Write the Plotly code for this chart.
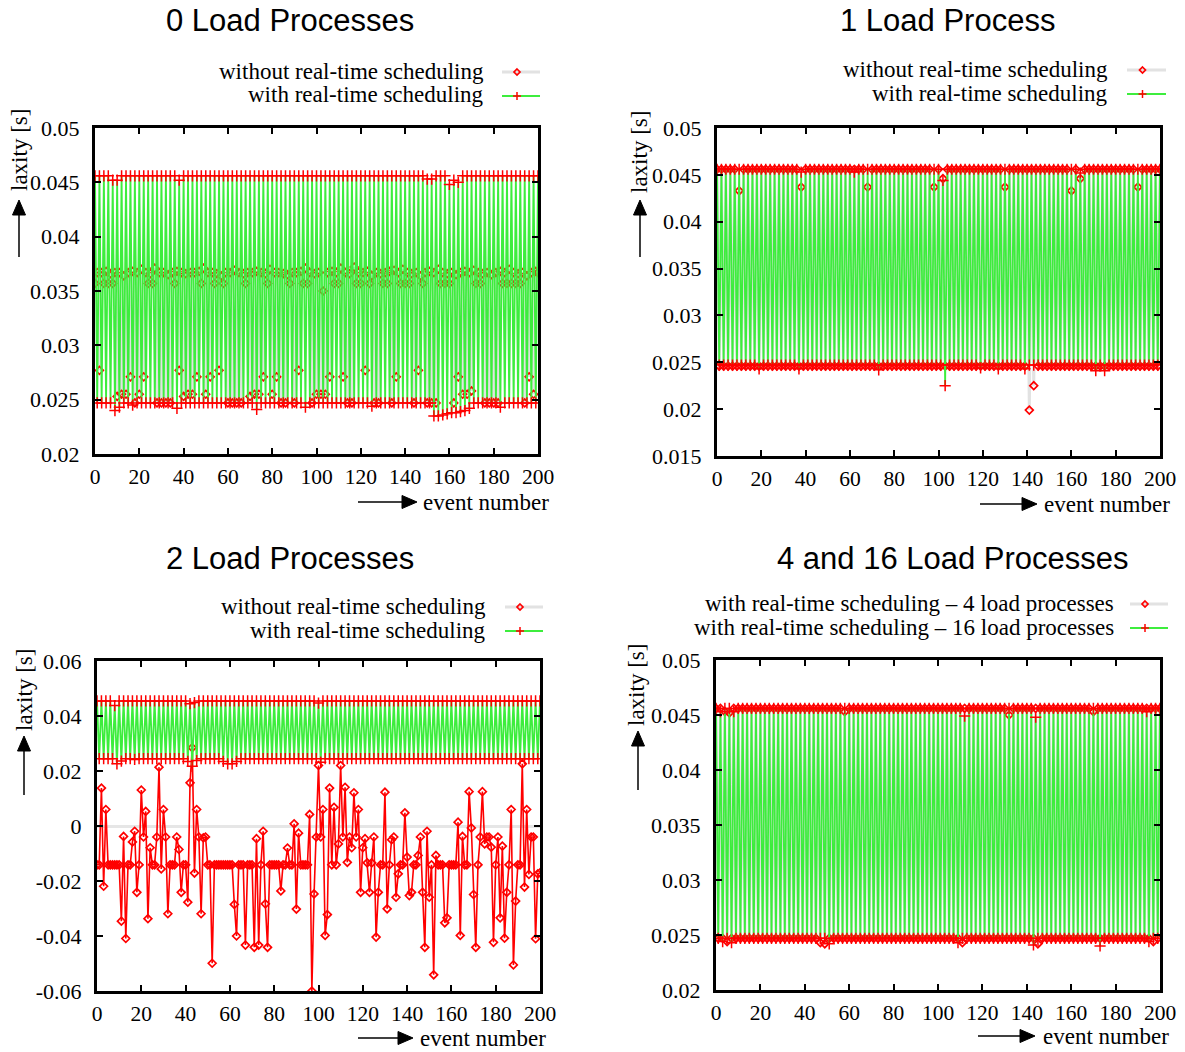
import plotly.graph_objects as go

W, H = 1185, 1052

# ---------------- data (laxity in milliseconds, events 0..200) ----------------
events = list(range(201))

p1_without_ms = [
    35.7, 36.7, 27.7, 36.7, 35.7, 36.8, 35.7, 36.6, 35.7, 36.7,
    25.3, 36.7, 25.5, 36.4, 25.5, 36.7, 27.1, 36.8, 24.7, 36.7,
    25.5, 37.0, 27.1, 36.7, 35.7, 36.6, 35.7, 37.1, 24.7, 36.7,
    24.7, 36.7, 24.7, 36.5, 24.7, 36.7, 35.7, 36.8, 27.7, 36.7,
    25.3, 36.6, 25.5, 36.7, 25.5, 36.7, 27.1, 36.8, 35.7, 37.1,
    25.5, 36.7, 27.1, 36.7, 35.7, 36.6, 27.7, 36.4, 35.7, 36.7,
    24.7, 36.7, 24.7, 36.9, 24.7, 36.7, 24.7, 36.6, 35.7, 36.7,
    25.3, 36.7, 25.5, 36.8, 25.5, 36.7, 27.1, 36.6, 35.7, 37.0,
    25.5, 36.7, 27.1, 36.7, 24.7, 36.6, 24.7, 36.5, 35.7, 36.7,
    24.7, 36.7, 27.7, 36.8, 35.7, 37.1, 35.7, 36.7, 24.7, 36.6,
    25.5, 36.7, 25.5, 35.0, 25.5, 36.7, 27.1, 36.8, 35.7, 36.7,
    35.7, 37.1, 27.1, 36.7, 24.7, 36.6, 24.7, 37.2, 35.7, 36.7,
    35.7, 36.7, 27.7, 36.8, 35.7, 36.4, 24.7, 36.7, 24.7, 36.6,
    35.7, 36.7, 35.7, 36.8, 24.7, 36.9, 27.1, 36.7, 35.7, 37.0,
    35.7, 36.7, 35.7, 36.6, 24.7, 36.7, 27.7, 36.4, 35.7, 36.7,
    24.7, 36.8, 24.7, 36.7, 24.7, 37.0, 35.7, 36.7, 35.7, 36.6,
    35.7, 36.7, 24.7, 36.5, 27.1, 36.7, 25.5, 36.8, 25.5, 36.7,
    25.8, 36.9, 35.7, 36.7, 35.7, 36.6, 24.7, 36.7, 24.7, 36.5,
    24.7, 36.7, 24.7, 36.8, 35.7, 36.7, 35.7, 37.0, 35.7, 36.7,
    35.7, 36.6, 35.7, 36.7, 24.7, 36.4, 27.1, 36.7, 25.5, 36.8,
    36.7,
]

p1_with_ms = [
    45.6, 24.7, 45.6, 24.7, 45.6, 24.7, 45.6, 24.7, 45.2, 24.0,
    45.2, 24.3, 45.6, 24.7, 45.6, 24.7, 45.6, 24.5, 45.6, 24.7,
    45.6, 24.7, 45.6, 24.7, 45.6, 24.7, 45.6, 24.7, 45.6, 24.7,
    45.6, 24.7, 45.6, 24.7, 45.6, 24.7, 45.6, 24.2, 45.2, 24.7,
    45.6, 24.7, 45.6, 24.7, 45.6, 24.7, 45.6, 24.7, 45.6, 24.7,
    45.6, 24.7, 45.6, 24.7, 45.6, 24.7, 45.6, 24.7, 45.6, 24.7,
    45.6, 24.7, 45.6, 24.7, 45.6, 24.7, 45.6, 24.7, 45.6, 24.7,
    45.6, 24.7, 45.6, 24.1, 45.6, 24.7, 45.6, 24.7, 45.6, 24.7,
    45.6, 24.7, 45.6, 24.7, 45.6, 24.7, 45.6, 24.7, 45.6, 24.7,
    45.6, 24.7, 45.6, 24.7, 45.6, 24.3, 45.6, 24.7, 45.6, 24.7,
    45.6, 24.7, 45.6, 24.7, 45.6, 24.7, 45.6, 24.7, 45.6, 24.7,
    45.6, 24.7, 45.6, 24.7, 45.6, 24.7, 45.6, 24.7, 45.6, 24.7,
    45.6, 24.7, 45.6, 24.7, 45.6, 24.4, 45.6, 24.7, 45.6, 24.7,
    45.6, 24.7, 45.6, 24.7, 45.6, 24.7, 45.6, 24.7, 45.6, 24.7,
    45.6, 24.7, 45.6, 24.7, 45.6, 24.7, 45.6, 24.7, 45.6, 24.7,
    45.3, 24.7, 45.3, 23.5, 45.6, 23.5, 45.6, 23.6, 45.6, 23.7,
    44.8, 23.8, 45.2, 23.8, 45.0, 23.9, 45.6, 24.0, 45.6, 24.2,
    45.6, 24.7, 45.6, 24.7, 45.6, 24.7, 45.6, 24.7, 45.6, 24.7,
    45.6, 24.7, 45.6, 24.3, 45.6, 24.7, 45.6, 24.7, 45.6, 24.7,
    45.6, 24.7, 45.6, 24.7, 45.6, 24.7, 45.6, 24.7, 45.6, 24.7,
    45.6,
]

p2_without_ms = [
    45.6, 24.6, 45.6, 24.6, 45.6, 24.6, 45.6, 24.6, 45.6, 24.6,
    43.3, 24.6, 45.6, 24.6, 45.6, 24.6, 45.6, 24.6, 45.6, 24.6,
    45.6, 24.6, 45.6, 24.6, 45.6, 24.6, 45.6, 24.6, 45.6, 24.6,
    45.6, 24.6, 45.6, 24.6, 45.6, 24.6, 45.6, 24.6, 43.7, 24.6,
    45.6, 24.6, 45.6, 24.6, 45.6, 24.6, 45.6, 24.6, 45.6, 24.6,
    45.6, 24.6, 45.6, 24.6, 45.6, 24.6, 45.6, 24.6, 45.6, 24.6,
    45.6, 24.6, 45.6, 24.6, 45.6, 24.6, 45.6, 24.6, 43.7, 24.6,
    45.6, 24.6, 45.6, 24.6, 45.6, 24.6, 45.6, 24.6, 45.6, 24.6,
    45.6, 24.6, 45.6, 24.6, 45.6, 24.6, 45.6, 24.6, 45.6, 24.6,
    45.6, 24.6, 45.6, 24.6, 45.6, 24.6, 45.6, 24.6, 43.7, 24.6,
    45.6, 24.6, 44.6, 24.6, 45.6, 24.6, 45.6, 24.6, 45.6, 24.6,
    45.6, 24.6, 45.6, 24.6, 45.6, 24.6, 45.6, 24.6, 45.6, 24.6,
    45.6, 24.6, 45.6, 24.6, 45.6, 24.6, 45.6, 24.6, 45.6, 24.6,
    43.7, 24.6, 45.6, 24.6, 45.6, 24.6, 45.6, 24.6, 45.6, 24.6,
    45.6, 19.9, 45.6, 22.5, 45.6, 24.6, 45.6, 24.6, 45.6, 24.6,
    45.6, 24.6, 45.6, 24.6, 45.6, 24.6, 45.6, 24.6, 45.6, 24.6,
    43.3, 24.6, 45.6, 24.6, 44.6, 24.6, 45.6, 24.6, 45.6, 24.6,
    45.6, 24.6, 45.6, 24.6, 45.6, 24.6, 45.6, 24.6, 45.6, 24.6,
    45.6, 24.6, 45.6, 24.6, 45.6, 24.6, 45.6, 24.6, 45.6, 24.6,
    43.7, 24.6, 45.6, 24.6, 45.6, 24.6, 45.6, 24.6, 45.6, 24.6,
    45.6,
]

p2_with_ms = [
    45.6, 24.7, 45.6, 24.7, 45.6, 24.7, 45.6, 24.7, 45.6, 24.7,
    45.6, 24.7, 45.6, 24.7, 45.6, 24.7, 45.6, 24.7, 45.6, 24.3,
    45.6, 24.7, 45.6, 24.7, 45.6, 24.7, 45.6, 24.7, 45.6, 24.7,
    45.6, 24.7, 45.6, 24.7, 45.6, 24.7, 45.6, 24.3, 45.3, 24.7,
    45.6, 24.7, 45.6, 24.7, 45.6, 24.7, 45.6, 24.7, 45.6, 24.7,
    45.6, 24.7, 45.6, 24.7, 45.6, 24.7, 45.6, 24.7, 45.6, 24.7,
    45.6, 24.7, 45.3, 24.7, 45.6, 24.7, 45.6, 24.7, 45.6, 24.7,
    45.6, 24.7, 45.6, 24.2, 45.6, 24.7, 45.6, 24.7, 45.6, 24.7,
    45.6, 24.7, 45.6, 24.7, 45.6, 24.7, 45.6, 24.7, 45.6, 24.7,
    45.6, 24.7, 45.6, 24.7, 45.6, 24.7, 45.6, 24.7, 45.6, 24.7,
    45.6, 24.7, 44.4, 22.5, 45.6, 24.7, 45.6, 24.7, 45.6, 24.7,
    45.6, 24.7, 45.6, 24.7, 45.6, 24.7, 45.6, 24.7, 45.6, 24.4,
    45.6, 24.7, 45.6, 24.7, 45.6, 24.7, 45.6, 24.3, 45.6, 24.7,
    45.6, 24.7, 45.6, 24.7, 45.6, 24.7, 45.6, 24.7, 45.6, 24.3,
    45.6, 24.7, 45.6, 24.7, 45.6, 24.7, 45.6, 24.7, 45.6, 24.7,
    45.6, 24.7, 45.6, 24.7, 45.6, 24.7, 45.6, 24.7, 45.6, 24.7,
    45.6, 24.7, 45.6, 24.7, 45.2, 24.7, 45.6, 24.7, 45.6, 24.7,
    45.6, 24.1, 45.6, 24.7, 45.6, 24.1, 45.6, 24.7, 45.6, 24.7,
    45.6, 24.7, 45.6, 24.7, 45.6, 24.7, 45.6, 24.7, 45.6, 24.7,
    45.6, 24.7, 45.6, 24.7, 45.6, 24.7, 45.6, 24.7, 45.6, 24.7,
    45.6,
]

p3_without_ms = [
    -14.1, -14.1, 13.8, -21.9, 6.0, -14.1, -14.1, -14.1, -14.1, -14.1,
    -14.1, -34.6, -3.8, -40.9, -14.1, -14.1, -5.8, -1.9, -24.1, -14.1,
    13.1, -4.0, 5.3, -33.7, -7.9, -14.1, -14.1, -4.0, 21.4, -15.6,
    6.0, -4.0, -31.9, -14.1, -14.1, -14.1, -4.0, -8.5, -24.1, -14.1,
    -14.1, -27.7, 15.7, 28.5, -17.1, 6.0, -4.0, -31.9, -4.3, -4.0,
    -14.1, -14.1, -49.9, -14.1, -14.1, -14.1, -14.1, -14.1, -14.1, -14.1,
    -14.1, -14.1, -28.5, -40.0, -14.1, -14.1, -14.1, -43.3, -14.1, -14.1,
    -14.1, -44.1, -4.6, -43.3, -14.1, -1.9, -28.3, -44.1, -14.1, -14.1,
    -14.1, -14.1, -14.1, -23.6, -14.1, -14.1, -8.0, -14.1, -14.1, 0.8,
    -30.2, -2.6, -14.1, -14.1, -14.1, -14.1, 4.2, -60.0, -24.7, -4.0,
    22.0, -4.0, 6.0, -39.8, -32.2, 13.8, -14.1, 6.8, -14.1, -6.5,
    22.0, -4.0, 14.1, -13.2, -4.0, -7.9, 12.1, -4.0, 6.0, -24.1,
    -7.9, -4.6, -13.4, -24.1, -13.4, -4.0, -40.4, -24.1, -14.1, -14.1,
    12.3, -30.1, -14.1, -5.0, -4.0, -25.9, -17.4, -14.1, -14.1, 4.8,
    -11.3, -25.3, -24.1, -14.1, -14.1, -10.7, -4.0, -24.1, -44.1, -1.9,
    -25.9, -14.1, -54.1, -10.7, -14.1, -14.1, -14.1, -35.2, -33.4, -14.1,
    -14.1, -14.1, -14.1, 1.4, -39.8, -3.8, -14.1, -14.1, 12.5, -0.7,
    -24.9, -44.1, -14.1, -4.0, 12.5, -6.5, -4.0, -4.0, -7.7, -42.3,
    -14.1, -4.0, -33.4, -7.3, -40.8, -24.1, -14.1, 6.0, -50.5, -27.3,
    -14.1, -14.1, 22.6, -22.2, 6.0, -17.6, -4.0, -4.0, -41.0, -17.4,
    -17.0,
]

p3_with_ms = [
    45.5, 24.5, 45.5, 24.5, 45.5, 24.5, 45.5, 24.5, 43.8, 22.6,
    45.5, 23.6, 45.5, 24.5, 45.5, 24.5, 45.5, 24.2, 45.5, 24.5,
    45.5, 24.5, 45.5, 24.5, 45.5, 24.5, 45.5, 24.5, 45.5, 24.5,
    45.5, 24.5, 45.5, 24.5, 45.5, 24.5, 45.5, 24.5, 45.5, 24.5,
    45.5, 23.5, 44.5, 21.7, 44.9, 23.8, 45.5, 24.5, 45.5, 24.5,
    45.5, 24.5, 45.5, 24.5, 45.5, 24.5, 45.5, 23.5, 45.5, 22.6,
    45.5, 22.6, 45.5, 23.5, 45.5, 24.5, 45.5, 24.5, 45.5, 24.5,
    45.5, 24.5, 45.5, 24.5, 45.5, 24.5, 45.5, 24.5, 45.5, 24.5,
    45.5, 24.5, 45.5, 24.5, 45.5, 24.5, 45.5, 24.5, 45.5, 24.5,
    45.5, 24.5, 45.5, 24.5, 45.5, 24.5, 45.5, 24.5, 45.5, 24.5,
    44.7, 23.2, 45.5, 24.5, 45.5, 24.5, 45.5, 24.5, 45.5, 24.5,
    45.5, 24.5, 45.5, 24.5, 45.5, 24.5, 45.5, 24.5, 45.5, 24.5,
    45.5, 24.5, 45.5, 24.5, 45.5, 24.5, 45.5, 24.5, 45.5, 24.5,
    45.5, 24.5, 45.5, 24.5, 45.5, 24.5, 45.5, 24.5, 45.5, 24.5,
    45.5, 24.5, 45.5, 24.5, 45.5, 24.5, 45.5, 24.5, 45.5, 24.5,
    45.5, 24.5, 45.5, 24.5, 45.5, 24.5, 45.5, 24.5, 45.5, 24.5,
    45.5, 24.5, 45.5, 24.5, 45.5, 24.5, 45.5, 24.5, 45.5, 24.5,
    45.5, 24.5, 45.5, 24.5, 45.5, 24.5, 45.5, 24.5, 45.5, 24.5,
    45.5, 24.5, 45.5, 24.5, 45.5, 24.5, 45.5, 24.5, 45.5, 24.5,
    45.5, 24.5, 45.5, 24.5, 45.5, 24.5, 45.5, 24.5, 45.5, 24.5,
    45.5,
]

p4_load4_ms = [
    45.6, 24.7, 45.6, 24.7, 45.3, 24.4, 45.2, 24.7, 45.6, 24.7,
    45.6, 24.7, 45.6, 24.7, 45.6, 24.7, 45.6, 24.7, 45.6, 24.7,
    45.6, 24.7, 45.6, 24.7, 45.6, 24.7, 45.6, 24.7, 45.6, 24.7,
    45.6, 24.7, 45.6, 24.7, 45.6, 24.7, 45.6, 24.7, 45.6, 24.7,
    45.6, 24.7, 45.6, 24.7, 45.6, 24.7, 45.6, 24.3, 45.6, 24.2,
    45.6, 24.7, 45.6, 24.7, 45.6, 24.7, 45.6, 24.7, 45.3, 24.7,
    45.6, 24.7, 45.6, 24.7, 45.6, 24.7, 45.6, 24.7, 45.6, 24.7,
    45.6, 24.7, 45.6, 24.7, 45.6, 24.7, 45.6, 24.7, 45.6, 24.7,
    45.6, 24.7, 45.6, 24.7, 45.6, 24.7, 45.6, 24.7, 45.6, 24.7,
    45.6, 24.7, 45.6, 24.7, 45.6, 24.7, 45.6, 24.7, 45.6, 24.7,
    45.6, 24.7, 45.6, 24.7, 45.6, 24.7, 45.6, 24.7, 45.6, 24.7,
    45.6, 24.3, 45.6, 24.7, 45.6, 24.7, 45.6, 24.7, 45.6, 24.7,
    45.6, 24.7, 45.6, 24.7, 45.6, 24.7, 45.6, 24.7, 45.6, 24.7,
    45.6, 24.7, 45.0, 24.7, 45.6, 24.7, 45.6, 24.7, 45.6, 24.7,
    45.6, 24.7, 45.6, 24.7, 45.6, 24.2, 45.6, 24.7, 45.6, 24.7,
    45.6, 24.7, 45.6, 24.7, 45.6, 24.7, 45.6, 24.7, 45.6, 24.7,
    45.6, 24.7, 45.6, 24.7, 45.6, 24.7, 45.6, 24.7, 45.6, 24.7,
    45.3, 24.7, 45.6, 24.7, 45.6, 24.7, 45.6, 24.7, 45.6, 24.7,
    45.6, 24.7, 45.6, 24.7, 45.6, 24.7, 45.6, 24.7, 45.6, 24.7,
    45.6, 24.7, 45.6, 24.7, 45.6, 24.7, 45.6, 24.4, 45.6, 24.7,
    45.6,
]

p4_load16_ms = [
    45.6, 24.7, 45.3, 24.4, 45.6, 24.7, 45.6, 24.3, 45.3, 24.7,
    45.6, 24.7, 45.6, 24.7, 45.6, 24.7, 45.6, 24.7, 45.6, 24.7,
    45.6, 24.7, 45.6, 24.7, 45.6, 24.7, 45.6, 24.7, 45.6, 24.7,
    45.6, 24.7, 45.6, 24.7, 45.6, 24.7, 45.6, 24.7, 45.6, 24.7,
    45.6, 24.7, 45.6, 24.7, 45.6, 24.7, 45.6, 24.7, 45.6, 24.7,
    45.6, 24.2, 45.6, 24.7, 45.6, 24.7, 45.6, 24.7, 45.6, 24.7,
    45.6, 24.7, 45.6, 24.7, 45.6, 24.7, 45.6, 24.7, 45.6, 24.7,
    45.6, 24.7, 45.6, 24.7, 45.6, 24.7, 45.6, 24.7, 45.6, 24.7,
    45.6, 24.7, 45.6, 24.7, 45.6, 24.7, 45.6, 24.7, 45.6, 24.7,
    45.6, 24.7, 45.6, 24.7, 45.6, 24.7, 45.6, 24.7, 45.6, 24.7,
    45.6, 24.7, 45.6, 24.7, 45.6, 24.7, 45.6, 24.7, 45.6, 24.3,
    45.6, 24.7, 44.9, 24.7, 45.6, 24.7, 45.6, 24.7, 45.6, 24.7,
    45.6, 24.7, 45.6, 24.7, 45.6, 24.7, 45.6, 24.7, 45.6, 24.7,
    45.6, 24.7, 45.6, 24.7, 45.6, 24.7, 45.6, 24.7, 45.6, 24.7,
    45.6, 24.7, 45.6, 24.1, 44.8, 24.7, 45.6, 24.7, 45.6, 24.7,
    45.6, 24.7, 45.6, 24.7, 45.6, 24.7, 45.6, 24.7, 45.6, 24.7,
    45.6, 24.7, 45.6, 24.7, 45.6, 24.7, 45.6, 24.7, 45.6, 24.7,
    45.6, 24.7, 45.6, 24.0, 45.6, 24.7, 45.6, 24.7, 45.6, 24.7,
    45.6, 24.7, 45.6, 24.7, 45.6, 24.7, 45.6, 24.7, 45.6, 24.7,
    45.6, 24.7, 45.6, 24.7, 45.3, 24.4, 45.6, 24.7, 45.6, 24.7,
    45.6,
]

x_tick_vals = [0, 20, 40, 60, 80, 100, 120, 140, 160, 180, 200]
y_ticks_a = [0.02, 0.025, 0.03, 0.035, 0.04, 0.045, 0.05]
y_ticks_a_text = ["0.02", "0.025", "0.03", "0.035", "0.04", "0.045", "0.05"]
y_ticks_b = [0.015, 0.02, 0.025, 0.03, 0.035, 0.04, 0.045, 0.05]
y_ticks_b_text = ["0.015", "0.02", "0.025", "0.03", "0.035", "0.04", "0.045", "0.05"]
y_ticks_c = [-0.06, -0.04, -0.02, 0, 0.02, 0.04, 0.06]
y_ticks_c_text = ["-0.06", "-0.04", "-0.02", "0", "0.02", "0.04", "0.06"]

titles = ["0 Load Processes", "1 Load Process", "2 Load Processes", "4 and 16 Load Processes"]
legend_text = [
    ["without real-time scheduling", "with real-time scheduling"],
    ["without real-time scheduling", "with real-time scheduling"],
    ["without real-time scheduling", "with real-time scheduling"],
    ["with real-time scheduling \u2013 4 load processes",
     "with real-time scheduling \u2013 16 load processes"],
]

for s in (p1_without_ms, p1_with_ms, p2_without_ms, p2_with_ms, p3_without_ms,
          p3_with_ms, p4_load4_ms, p4_load16_ms):
    assert len(s) == len(events), len(s)


def to_s(ms):
    return [v / 1000.0 for v in ms]


# ---------------- styling ----------------
RED = "#ff0000"
GREEN = "#3ded3d"
GRAY = "#e2e2e2"
SERIF = "Liberation Serif, Times New Roman, serif"
SANS = "Liberation Sans, Arial, sans-serif"


def PX(x):
    return x / W


def PY(y):
    return 1 - y / H


panels = [
    dict(box=(95, 128, 538, 454), yr=[0.02, 0.05], yt=y_ticks_a, ytt=y_ticks_a_text,
         series=[(p1_without_ms, GRAY, 3, "diamond"), (p1_with_ms, GREEN, 1.8, "cross")],
         title=(290, 21), leg_right=486, leg_line=(502, 540), leg_rows=(72, 96),
         ylab=(19, 150), yarrow=(19, 200, 257), xlab=(421, 502), xarrow=(358, 417, 502), zero=False),
    dict(box=(717, 128, 1160, 456), yr=[0.015, 0.05], yt=y_ticks_b, ytt=y_ticks_b_text,
         series=[(p2_without_ms, GRAY, 3, "diamond"), (p2_with_ms, GREEN, 1.8, "cross")],
         title=(947, 21), leg_right=1110, leg_line=(1127, 1166), leg_rows=(70, 94),
         ylab=(639, 152), yarrow=(640, 200, 257), xlab=(1042, 504), xarrow=(980, 1037, 504), zero=False),
    dict(box=(97, 661, 540, 991), yr=[-0.06, 0.06], yt=y_ticks_c, ytt=y_ticks_c_text,
         series=[(p3_without_ms, RED, 1.6, "diamond"), (p3_with_ms, GREEN, 1.8, "cross")],
         title=(290, 558), leg_right=488, leg_line=(505, 543), leg_rows=(607, 631),
         ylab=(24, 690), yarrow=(24, 736, 795), xlab=(418, 1038), xarrow=(358, 413, 1038), zero=True),
    dict(box=(716, 660, 1160, 990), yr=[0.02, 0.05], yt=y_ticks_a, ytt=y_ticks_a_text,
         series=[(p4_load4_ms, GRAY, 3, "diamond"), (p4_load16_ms, GREEN, 1.8, "cross")],
         title=(953, 558), leg_right=1116, leg_line=(1130, 1168), leg_rows=(604, 628),
         ylab=(636, 685), yarrow=(638, 731, 790), xlab=(1041, 1036), xarrow=(978, 1035, 1036), zero=False),
]

fig = go.Figure()
shapes = []
annotations = []

marker_styles = {
    "diamond": dict(symbol="diamond-open", size=6, color=RED, line=dict(color=RED, width=1.7)),
    "cross": dict(symbol="cross-thin", size=8, color=RED, line=dict(color=RED, width=1.5)),
}

for i, p in enumerate(panels):
    k = i + 1
    xa = "x" if k == 1 else f"x{k}"
    ya = "y" if k == 1 else f"y{k}"
    x0, y0, x1, y1 = p["box"]
    for ms, lc, lw, sym in p["series"]:
        fig.add_trace(go.Scatter(
            x=events, y=to_s(ms), xaxis=xa, yaxis=ya, mode="lines+markers",
            line=dict(color=lc, width=lw), marker=marker_styles[sym],
            showlegend=False, hoverinfo="skip"))

    common = dict(showline=True, linecolor="black", linewidth=3, mirror="allticks",
                  ticks="inside", ticklen=6, tickwidth=2, tickcolor="black",
                  showgrid=False, automargin=False)
    fig.layout[f"xaxis{'' if k == 1 else k}"] = dict(
        domain=[PX(x0), PX(x1)], anchor=ya, range=[0, 200],
        tickmode="array", tickvals=x_tick_vals, zeroline=False,
        tickfont=dict(family=SERIF, size=21.5, color="black"), ticklabelstandoff=1, **common)
    fig.layout[f"yaxis{'' if k == 1 else k}"] = dict(
        domain=[PY(y1), PY(y0)], anchor=xa, range=p["yr"],
        tickmode="array", tickvals=p["yt"], ticktext=p["ytt"],
        tickfont=dict(family=SERIF, size=22, color="black"), ticklabelstandoff=8,
        zeroline=p["zero"], zerolinecolor="#e6e6e6", zerolinewidth=3, **common)

    # title
    tx, ty = p["title"]
    annotations.append(dict(x=PX(tx), y=PY(ty), xref="paper", yref="paper", text=titles[i],
                            showarrow=False, xanchor="center", yanchor="middle",
                            font=dict(family=SANS, size=31, color="black")))
    # legend
    la, lb = p["leg_line"]
    for r, (txt, ry) in enumerate(zip(legend_text[i], p["leg_rows"])):
        annotations.append(dict(x=PX(p["leg_right"]), y=PY(ry - 1), xref="paper", yref="paper",
                                text=txt, showarrow=False, xanchor="right", yanchor="middle",
                                font=dict(family=SERIF, size=23, color="black")))
        lc, lw = (GRAY, 3) if r == 0 else (GREEN, 1.8)
        shapes.append(dict(type="line", xref="paper", yref="paper", x0=PX(la), x1=PX(lb),
                           y0=PY(ry), y1=PY(ry), line=dict(color=lc, width=lw)))
        cx = (la + lb) / 2 - 4
        if r == 0:
            d = 3
            shapes.append(dict(type="path", xref="paper", yref="paper",
                               path=f"M{PX(cx)},{PY(ry - d)} L{PX(cx + d)},{PY(ry)} L{PX(cx)},{PY(ry + d)} L{PX(cx - d)},{PY(ry)} Z",
                               line=dict(color=RED, width=1.7), fillcolor="rgba(0,0,0,0)"))
        else:
            d = 4
            shapes.append(dict(type="line", xref="paper", yref="paper", x0=PX(cx - d), x1=PX(cx + d),
                               y0=PY(ry), y1=PY(ry), line=dict(color=RED, width=1.5)))
            shapes.append(dict(type="line", xref="paper", yref="paper", x0=PX(cx), x1=PX(cx),
                               y0=PY(ry - d), y1=PY(ry + d), line=dict(color=RED, width=1.5)))
    # y label and arrow
    lx, lyc = p["ylab"]
    annotations.append(dict(x=PX(lx), y=PY(lyc), xref="paper", yref="paper", text="laxity [s]",
                            showarrow=False, textangle=-90, xanchor="center", yanchor="middle",
                            font=dict(family=SERIF, size=23, color="black")))
    ax_, tip, tail = p["yarrow"]
    hl, hw = 15, 6.5
    shapes.append(dict(type="line", xref="paper", yref="paper", x0=PX(ax_), x1=PX(ax_),
                       y0=PY(tail), y1=PY(tip + hl - 1), line=dict(color="black", width=1.5)))
    shapes.append(dict(type="path", xref="paper", yref="paper",
                       path=f"M{PX(ax_)},{PY(tip)} L{PX(ax_ + hw)},{PY(tip + hl)} L{PX(ax_ - hw)},{PY(tip + hl)} Z",
                       line=dict(color="black", width=1), fillcolor="black"))
    # x label and arrow
    xlx, xly = p["xlab"]
    annotations.append(dict(x=PX(xlx), y=PY(xly), xref="paper", yref="paper", text="event number",
                            showarrow=False, xanchor="left", yanchor="middle",
                            font=dict(family=SERIF, size=23, color="black")))
    t0, t1, ay_ = p["xarrow"]
    shapes.append(dict(type="line", xref="paper", yref="paper", x0=PX(t0), x1=PX(t1 - hl + 1),
                       y0=PY(ay_), y1=PY(ay_), line=dict(color="black", width=1.5)))
    shapes.append(dict(type="path", xref="paper", yref="paper",
                       path=f"M{PX(t1)},{PY(ay_)} L{PX(t1 - hl)},{PY(ay_ - hw)} L{PX(t1 - hl)},{PY(ay_ + hw)} Z",
                       line=dict(color="black", width=1), fillcolor="black"))

fig.update_layout(
    template="none",
    width=W, height=H, margin=dict(l=0, r=0, t=0, b=0, pad=0, autoexpand=False),
    paper_bgcolor="white", plot_bgcolor="white",
    shapes=shapes, annotations=annotations, showlegend=False,
)

fig.write_html("out.html")
